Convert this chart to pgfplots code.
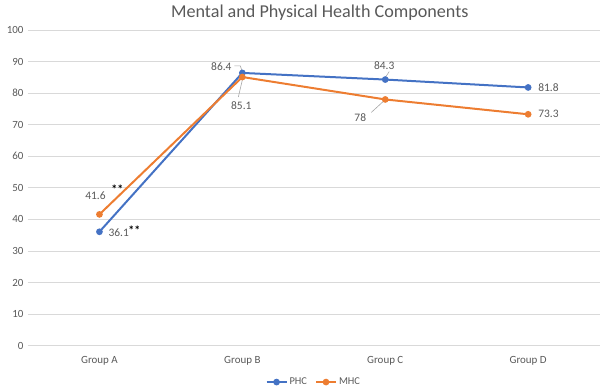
\documentclass[border=0pt]{standalone}
\usepackage{pgfplots}
\pgfplotsset{compat=1.18}
\usepackage{fontspec}
\setmainfont{Carlito}
\definecolor{phc}{RGB}{68,114,196}
\definecolor{mhc}{RGB}{237,125,49}
\definecolor{txt}{RGB}{89,89,89}
\definecolor{grd}{RGB}{217,217,217}
\definecolor{ldr}{RGB}{166,166,166}
\begin{document}
\begin{tikzpicture}[x=1bp,y=1bp]
\begin{axis}[
  at={(0,0)}, anchor=south west,
  scale only axis, width=572bp, height=316bp,
  xmin=-0.5, xmax=3.5, ymin=0, ymax=100,
  xtick={0,1,2,3}, xticklabels={Group A,Group B,Group C,Group D},
  ytick={0,10,...,100},
  ymajorgrids, grid style={grd, line width=0.8bp},
  axis line style={draw=none},
  axis x line*=bottom, axis y line*=left,
  major tick length=0pt,
  tick label style={font=\fontsize{11}{13}\selectfont, text=txt},
  /pgf/number format/assume math mode=true,
  yticklabel style={xshift=-1bp},
  xticklabel style={yshift=-7bp},
  title={Mental and Physical Health Components},
  title style={font=\fontsize{18.2}{21}\selectfont, text=txt, yshift=0bp, xshift=6bp},
  legend style={draw=none, fill=none, at={(0.5,0)}, anchor=north, yshift=-28bp,
    font=\fontsize{10.5}{12}\selectfont, text=txt, legend columns=-1,
    /tikz/every even column/.append style={column sep=6bp}},
  legend image code/.code={\draw[#1, mark repeat=2, mark phase=2] plot coordinates {(0bp,0bp) (10bp,0bp) (20bp,0bp)};},
  clip=false,
]
\addplot[color=phc, line width=2bp, mark=*, mark size=2.3bp, mark options={fill=phc}]
  coordinates {(0,36.1) (1,86.4) (2,84.3) (3,81.8)};
\addlegendentry{PHC}
\addplot[color=mhc, line width=2bp, mark=*, mark size=2.3bp, mark options={fill=mhc}]
  coordinates {(0,41.6) (1,85.1) (2,78.0) (3,73.3)};
\addlegendentry{MHC}
% data labels
\begin{scope}[every node/.style={font=\fontsize{11.5}{13}\selectfont, text=txt, inner sep=1bp}]
\node[anchor=west] at (axis cs:0,36.1) [xshift=8bp, yshift=-1bp] {36.1};
\node[text=black, font=\bfseries\fontsize{12}{13}\selectfont] at (axis cs:0,36.1) [xshift=35bp, yshift=2bp] {**};
\node at (axis cs:0,41.6) [xshift=-4bp, yshift=19bp] {41.6};
\node[text=black, font=\bfseries\fontsize{12}{13}\selectfont] at (axis cs:0,41.6) [xshift=18bp, yshift=25bp] {**};
\node at (axis cs:1,86.4) [xshift=-21bp, yshift=6bp] {86.4};
\draw[ldr, line width=0.6bp] (axis cs:1,86.4) ++(-8bp,7bp) -- ++(6bp,0bp) -- ++(2bp,-6bp);
\node at (axis cs:1,85.1) [xshift=-1bp, yshift=-29bp] {85.1};
\draw[ldr, line width=0.6bp] (axis cs:1,85.1) ++(0bp,-3bp) -- ++(-4bp,-17bp);
\node at (axis cs:2,84.3) [xshift=-1bp, yshift=14bp] {84.3};
\draw[ldr, line width=0.6bp] (axis cs:2,84.3) ++(0bp,2bp) -- ++(4bp,6bp);
\node at (axis cs:2,78) [xshift=-25bp, yshift=-18bp] {78};
\draw[ldr, line width=0.6bp] (axis cs:2,78) ++(-2bp,-2bp) -- ++(-12bp,-11bp);
\node[anchor=west] at (axis cs:3,81.8) [xshift=9bp] {81.8};
\node[anchor=west] at (axis cs:3,73.3) [xshift=9bp] {73.3};
\end{scope}
\end{axis}
\path[use as bounding box] (-28bp,-42bp) rectangle (572bp,346bp);
\end{tikzpicture}
\end{document}
